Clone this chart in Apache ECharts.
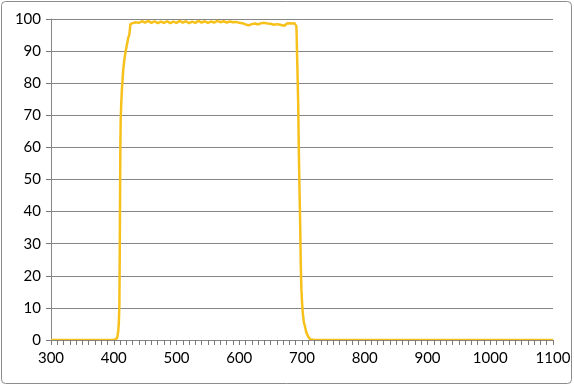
<!DOCTYPE html>
<html>
<head>
<meta charset="utf-8">
<script src="https://cdn.jsdelivr.net/npm/echarts@6/dist/echarts.min.js"></script>
<style>html,body{margin:0;padding:0;background:#fff;}#c{width:574px;height:386px;}</style>
</head>
<body>
<div id="c"></div>
<script>
const wavelength = [300,320,340,360,380,400,403,405,406,407,408,409,409.5,410,410.5,411,412,413,414,415,417,419,421,423,425,426,426.5,430,435,440,445,450,455,460,465,470,475,480,485,490,495,500,505,510,515,520,525,530,535,540,545,550,555,560,565,570,575,580,585,590,595,600,605,610,615,620,625,630,635,640,645,650,655,660,665,668,672,676,680,684,688,690,691,691.5,692,693,694,695,696,697,698,699,700,701,702,703,705,707,710,713,716,720,760,800,850,900,950,1000,1050,1100];
const transmission = [0,0,0,0,0,0,0.1,0.5,1.2,2.5,5,11,25,43,60,68,74,78,81,84,87.5,90,92,94,95.3,95.6,98.4,98.7,99,98.8,99.3,98.9,99.4,98.8,99.3,98.7,99.2,98.8,99.3,98.7,99.2,98.8,99.4,98.9,99.3,98.7,99.2,98.8,99.4,98.9,99.3,98.8,99.2,98.9,99.4,99,99.3,98.9,99.2,99,99.1,98.8,98.7,98.3,98.0,98.4,98.6,98.3,98.7,98.8,98.6,98.5,98.2,98.4,98.2,97.6,97.9,98.6,98.7,98.6,98.7,98.3,97.8,95,90,82,73,58,47,37,24,16,12,9,7,5.5,4,2.3,1,0.2,0,0,0,0,0,0,0,0,0,0];
const xTicks = {min: 300, max: 1100, step: 100, minorSplit: 10};
const yTicks = {min: 0, max: 100, step: 10};

const data = wavelength.map((w, i) => [w, transmission[i]]);
const chart = echarts.init(document.getElementById('c'), null, {renderer: 'canvas'});
const font = 'Lato, "Open Sans", sans-serif';
chart.setOption({
  animation: false,
  backgroundColor: '#fff',
  grid: {left: 51, right: 21, top: 19, bottom: 46},
  xAxis: [{
    type: 'value', min: xTicks.min, max: xTicks.max, interval: xTicks.step,
    axisLine: {show: true, onZero: false, lineStyle: {color: '#868686', width: 1}},
    axisTick: {show: true, inside: false, length: 5, lineStyle: {color: '#7a7a7a', width: 1}},
    minorTick: {show: true, splitNumber: xTicks.minorSplit, length: 5, lineStyle: {color: '#7a7a7a', width: 1}},
    splitLine: {show: false},
    axisLabel: {color: '#000', fontSize: 15, fontFamily: font, margin: 11, formatter: v => String(v)},
    z: 10
  }],
  yAxis: {
    type: 'value', min: yTicks.min, max: yTicks.max, interval: yTicks.step,
    axisLine: {show: true, lineStyle: {color: '#868686', width: 1}},
    axisTick: {show: true, inside: false, length: 5, lineStyle: {color: '#7a7a7a', width: 1}},
    splitLine: {show: true, lineStyle: {color: '#868686', width: 1}},
    axisLabel: {color: '#000', fontSize: 15, fontFamily: font, margin: 10, formatter: v => String(v)}
  },
  series: [{
    type: 'line', data: data, showSymbol: false, smooth: false,
    lineStyle: {color: '#F7C11C', width: 2.5},
    itemStyle: {color: '#F7C11C'}
  }],
  graphic: [{
    type: 'rect', shape: {x: 1.5, y: 1.5, width: 570, height: 382, r: 4},
    style: {fill: 'none', stroke: '#8c8c8c', lineWidth: 1}, silent: true, z: 100
  }]
});
</script>
</body>
</html>
